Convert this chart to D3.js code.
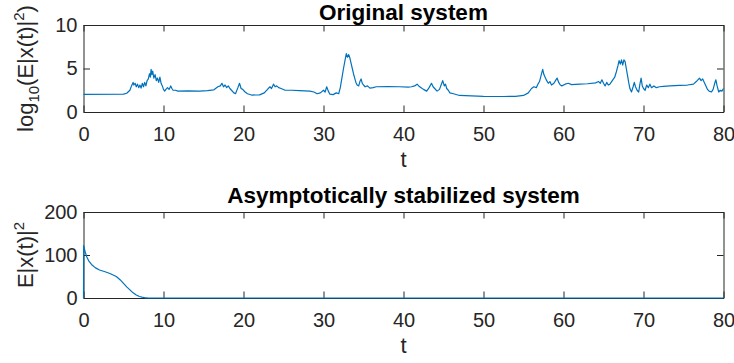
<!DOCTYPE html>
<html>
<head>
<meta charset="utf-8">
<script src="https://cdn.jsdelivr.net/npm/d3@7"></script>
<style>
  body { margin: 0; background: #fff; }
  svg { display: block; font-family: "Liberation Sans", Arial, Helvetica, sans-serif; }
</style>
</head>
<body>
<div id="chart"></div>
<script>
// values: [t, value]
const originalSeries = [
  [0,2.03],[5.0,2.05],[5.4,2.15],[5.8,2.5],[6.0,3.0],[6.2,3.4],[6.3,3.1],[6.45,3.3],[6.6,2.9],[6.75,3.2],
  [6.9,2.8],[7.05,3.1],[7.2,2.75],[7.35,3.3],[7.5,2.9],[7.65,3.4],[7.8,3.0],[7.95,3.6],[8.1,3.8],[8.25,4.4],
  [8.35,4.0],[8.45,4.9],[8.55,4.3],[8.65,4.7],[8.8,3.9],[8.95,4.3],[9.1,3.6],[9.25,3.9],[9.4,3.4],[9.55,4.0],
  [9.7,3.3],[9.85,3.0],[10.0,2.6],[10.15,2.4],[10.3,2.6],[10.5,2.8],[10.7,2.6],[10.9,3.0],[11.05,2.7],[11.2,2.5],
  [11.5,2.5],[11.8,2.4],[13,2.42],[14.5,2.4],[15.5,2.45],[16.3,2.55],[16.8,2.9],[17.1,3.0],[17.3,3.3],[17.5,2.9],
  [17.7,3.1],[17.9,2.8],[18.1,3.0],[18.3,2.7],[18.5,2.5],[18.8,2.2],[19.0,2.1],[19.3,2.8],[19.5,3.3],[19.7,2.7],
  [19.9,2.6],[20.2,2.3],[20.5,2.1],[21,1.95],[22,1.97],[22.6,2.2],[23.0,2.6],[23.3,2.9],[23.5,2.7],[23.75,3.2],
  [23.95,2.9],[24.15,3.0],[24.4,2.8],[24.7,2.7],[25.2,2.5],[26,2.5],[27,2.45],[28.3,2.4],[28.8,2.3],[29.2,2.1],
  [29.6,2.2],[30.0,2.5],[30.2,2.3],[30.4,2.9],[30.6,2.4],[30.8,2.05],[31.2,2.0],[31.6,2.2],[31.9,2.1],[32.1,2.8],
  [32.3,3.9],[32.5,5.0],[32.7,6.0],[32.85,6.7],[33.0,6.3],[33.15,6.6],[33.3,6.2],[33.45,5.6],[33.6,5.0],[33.75,4.4],
  [33.9,3.9],[34.05,3.4],[34.2,3.1],[34.4,3.0],[34.55,3.5],[34.7,3.8],[34.85,3.3],[35.0,3.1],[35.2,2.9],[35.5,3.0],
  [35.8,2.75],[36.2,2.8],[36.6,2.9],[38,2.92],[39.5,2.9],[40.6,2.85],[41.0,2.9],[41.4,3.0],[41.7,3.2],[41.9,3.0],
  [42.2,2.8],[42.5,2.6],[42.9,2.4],[43.2,2.8],[43.5,3.3],[43.7,2.9],[43.9,2.7],[44.2,2.4],[44.5,2.6],[44.7,3.1],
  [44.9,3.6],[45.1,3.0],[45.25,3.2],[45.4,2.7],[45.6,2.5],[45.8,2.2],[46.25,2.1],[47.0,1.9],[48.5,1.85],[50,1.8],
  [52.5,1.78],[54.0,1.8],[55.0,1.9],[55.6,2.2],[56.0,2.7],[56.3,2.9],[56.6,2.8],[56.8,3.2],[57.0,3.5],[57.2,4.2],
  [57.4,4.9],[57.55,4.3],[57.7,4.0],[57.9,3.6],[58.1,3.3],[58.3,3.5],[58.5,3.1],[58.8,3.3],[59.0,3.6],[59.2,3.9],
  [59.4,3.4],[59.6,3.1],[59.8,3.0],[60.2,3.2],[60.6,3.3],[61.0,3.15],[62,3.2],[63,3.25],[64.0,3.35],[64.4,3.5],
  [64.6,3.3],[64.8,3.7],[65.0,3.3],[65.2,3.0],[65.4,3.4],[65.6,3.1],[65.8,3.2],[66.1,3.6],[66.4,4.0],[66.6,4.6],
  [66.8,5.3],[66.95,5.9],[67.1,5.5],[67.25,6.0],[67.4,5.4],[67.55,6.0],[67.7,5.8],[67.85,5.0],[68.0,4.2],[68.15,3.4],
  [68.3,2.7],[68.5,2.3],[68.7,2.9],[68.85,3.4],[69.0,2.9],[69.2,2.5],[69.4,2.3],[69.55,3.2],[69.7,3.9],[69.85,3.0],
  [70.0,2.7],[70.2,2.5],[70.4,3.1],[70.6,2.8],[70.8,3.2],[71.0,2.8],[71.3,3.0],[71.6,2.8],[72.0,2.9],[72.5,2.95],
  [73.3,3.0],[74.5,3.05],[75.5,3.1],[76.25,3.2],[76.6,3.5],[76.8,3.7],[77.0,3.9],[77.2,3.6],[77.4,3.8],[77.6,3.4],
  [77.8,3.0],[78.0,2.6],[78.2,2.4],[78.5,2.3],[78.7,2.6],[78.9,3.3],[79.05,3.7],[79.2,3.0],[79.4,2.3],[79.6,2.5],
  [79.8,2.4],[80,2.7]
];

const stabilizedSeries = [
  [0,0],[0.02,122],[0.2,108],[0.4,96],[0.7,85],[1.0,78],[1.5,70],[2.0,65],[2.7,61],[3.3,57],
  [4.1,50],[4.6,42],[5.0,34],[5.4,26],[5.8,19],[6.2,12],[6.6,7],[7.0,3.5],[7.3,2],[7.7,0.5],
  [8,0.2],[10,0],[80,0]
];

const xTicks = [0, 10, 20, 30, 40, 50, 60, 70, 80];
const topYTicks = [0, 5, 10];
const bottomYTicks = [0, 100, 200];
const titles = ["Original system", "Asymptotically stabilized system"];

const W = 734, H = 363;
const axisColor = "#262626", lineColor = "#0072BD";
const tickFs = 20, labelFs = 22, titleFs = 22.5, tickLen = 6.5;

const svg = d3.select("#chart").append("svg")
    .attr("width", W).attr("height", H);

const x = d3.scaleLinear().domain([0, 80]).range([83.5, 723.5]);
const xMid = (x.range()[0] + x.range()[1]) / 2;

function drawPanel(top, bottom, yDomain, yTicks, data, title, titleY) {
    const y = d3.scaleLinear().domain(yDomain).range([bottom, top]);
    const g = svg.append("g");

    // box axes with inward ticks
    g.append("g").attr("transform", `translate(0,${bottom})`)
        .call(d3.axisBottom(x).tickValues(xTicks).tickSize(-tickLen).tickPadding(14.5).tickSizeOuter(0));
    g.append("g").attr("transform", `translate(0,${top})`)
        .call(d3.axisTop(x).tickValues(xTicks).tickSize(-tickLen).tickFormat("").tickSizeOuter(0));
    g.append("g").attr("transform", `translate(${x.range()[0]},0)`)
        .call(d3.axisLeft(y).tickValues(yTicks).tickSize(-tickLen).tickPadding(6).tickSizeOuter(0));
    g.append("g").attr("transform", `translate(${x.range()[1]},0)`)
        .call(d3.axisRight(y).tickValues(yTicks).tickSize(-tickLen).tickFormat("").tickSizeOuter(0));

    g.selectAll(".domain").attr("stroke", axisColor);
    g.selectAll(".tick line").attr("stroke", axisColor);
    g.selectAll(".tick text")
        .attr("fill", axisColor)
        .style("font-size", tickFs + "px")
        .style("font-family", "'Liberation Sans', Arial, sans-serif");

    // data line
    const line = d3.line().x(d => x(d[0])).y(d => y(d[1]));
    g.append("path").datum(data)
        .attr("d", line)
        .attr("fill", "none")
        .attr("stroke", lineColor)
        .attr("stroke-width", 1.2)
        .attr("stroke-linejoin", "round");

    // title
    g.append("text")
        .attr("x", xMid).attr("y", titleY)
        .attr("text-anchor", "middle")
        .attr("font-weight", "bold")
        .attr("font-size", titleFs)
        .attr("fill", "#000")
        .text(title);

    // x label
    g.append("text")
        .attr("x", xMid).attr("y", bottom + 55)
        .attr("text-anchor", "middle")
        .attr("font-size", labelFs)
        .attr("fill", axisColor)
        .text("t");
    return y;
}

drawPanel(25, 112, [0, 10], topYTicks, originalSeries, titles[0], 19.5);
drawPanel(212, 298, [0, 200], bottomYTicks, stabilizedSeries, titles[1], 203);

// y labels with sub/superscripts
const yl1 = svg.append("text")
    .attr("transform", "translate(33,68.5) rotate(-90)")
    .attr("text-anchor", "middle")
    .attr("font-size", labelFs)
    .attr("fill", axisColor);
yl1.append("tspan").text("log");
yl1.append("tspan").attr("dy", 6).attr("font-size", 15).text("10");
yl1.append("tspan").attr("dy", -6).text("(E|x(t)|");
yl1.append("tspan").attr("dy", -9).attr("font-size", 15).text("2");
yl1.append("tspan").attr("dy", 9).text(")");

const yl2 = svg.append("text")
    .attr("transform", "translate(33,255) rotate(-90)")
    .attr("text-anchor", "middle")
    .attr("font-size", labelFs)
    .attr("fill", axisColor);
yl2.append("tspan").text("E|x(t)|");
yl2.append("tspan").attr("dy", -9).attr("font-size", 15).text("2");
</script>
</body>
</html>
